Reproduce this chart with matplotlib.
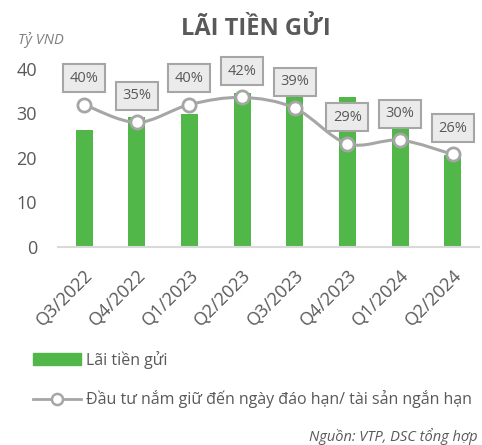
import matplotlib.pyplot as plt
from matplotlib.path import Path
from matplotlib.patches import PathPatch, Patch
from matplotlib.lines import Line2D
import numpy as np

plt.rcParams['font.family'] = ['Open Sans', 'DejaVu Sans']

# data
quarters = ["Q3/2022", "Q4/2022", "Q1/2023", "Q2/2023", "Q3/2023", "Q4/2023", "Q1/2024", "Q2/2024"]
interest = [26.3, 29.1, 29.8, 34.5, 33.8, 33.8, 31.0, 20.7]
htm_ratio = [0.40, 0.35, 0.40, 0.42, 0.39, 0.29, 0.30, 0.26]
ratio_labels = ["40%", "35%", "40%", "42%", "39%", "29%", "30%", "26%"]

green = "#50b748"
gray_line = "#a6a6a6"
text_col = "#595959"

fig = plt.figure(figsize=(4.82, 4.45), dpi=100)
ax = fig.add_axes([0.120, 0.445, 0.874, 0.40])
x = np.arange(len(quarters))

ax.bar(x, interest, width=0.32, color=green, zorder=2)
ax.set_xlim(-0.5, len(quarters) - 0.5)
ax.set_ylim(0, 40)
ax.set_yticks([0, 10, 20, 30, 40])
ax.tick_params(axis="y", length=0, labelsize=13, labelcolor=text_col, pad=15)
ax.set_xticks(x)
ax.set_xticklabels(quarters, rotation=45, ha="right", rotation_mode="anchor",
                   fontsize=13, color=text_col)
ax.tick_params(axis="x", length=0, pad=14)
for s in ["top", "right", "left"]:
    ax.spines[s].set_visible(False)
ax.spines["bottom"].set_color("#d9d9d9")
ax.spines["bottom"].set_linewidth(1.5)

# secondary axis for the ratio line
ax2 = ax.twinx()
ax2.set_ylim(0, 0.5)
ax2.axis("off")

# smoothed line (cubic bezier through the points)
pts = np.column_stack([x, htm_ratio])
verts = [pts[0]]
codes = [Path.MOVETO]
for i in range(len(pts) - 1):
    p0 = pts[i - 1] if i > 0 else pts[i]
    p1, p2 = pts[i], pts[i + 1]
    p3 = pts[i + 2] if i + 2 < len(pts) else pts[i + 1]
    c1 = p1 + (p2 - p0) / 6
    c2 = p2 - (p3 - p1) / 6
    verts += [c1, c2, p2]
    codes += [Path.CURVE4] * 3
ax2.add_patch(PathPatch(Path(verts, codes), fill=False, edgecolor=gray_line,
                        lw=2.2, zorder=3))
ax2.plot(x, htm_ratio, ls="none", marker="o", ms=9.5, mfc="white",
         mec=gray_line, mew=2, zorder=4, clip_on=False)

for xi, yi, lab in zip(x, htm_ratio, ratio_labels):
    ax2.annotate(lab, (xi, yi), xytext=(0, 19), textcoords="offset points",
                 ha="center", va="center", fontsize=10.5, color=text_col, zorder=5,
                 bbox=dict(boxstyle="square,pad=0.45", fc="#ebebeb", ec=gray_line, lw=1.5))

# title and notes
fig.text(0.53, 0.935, "LÃI TIỀN GỬI", ha="center", va="center", fontsize=17,
         fontweight="bold", color=text_col)
fig.text(0.037, 0.91, "Tỷ VND", ha="left", va="center", fontsize=10.5,
         style="italic", color="#7f7f7f")

# legend
handles = [Patch(color=green),
           Line2D([], [], color=gray_line, lw=2, marker="o", ms=8, mfc="white",
                  mec=gray_line, mew=1.8)]
fig.legend(handles, ["Lãi tiền gửi", "Đầu tư nắm giữ đến ngày đáo hạn/ tài sản ngắn hạn"],
           loc="upper left", bbox_to_anchor=(0.068, 0.212), frameon=False,
           fontsize=11.5, labelcolor=text_col, handlelength=3.05, handleheight=0.7,
           handletextpad=0.3, labelspacing=1.35, borderpad=0, borderaxespad=0)

fig.text(0.99, 0.018, "Nguồn: VTP, DSC tổng hợp", ha="right", va="center",
         fontsize=10.5, style="italic", color=text_col)

fig.savefig("out.png", dpi=100)
